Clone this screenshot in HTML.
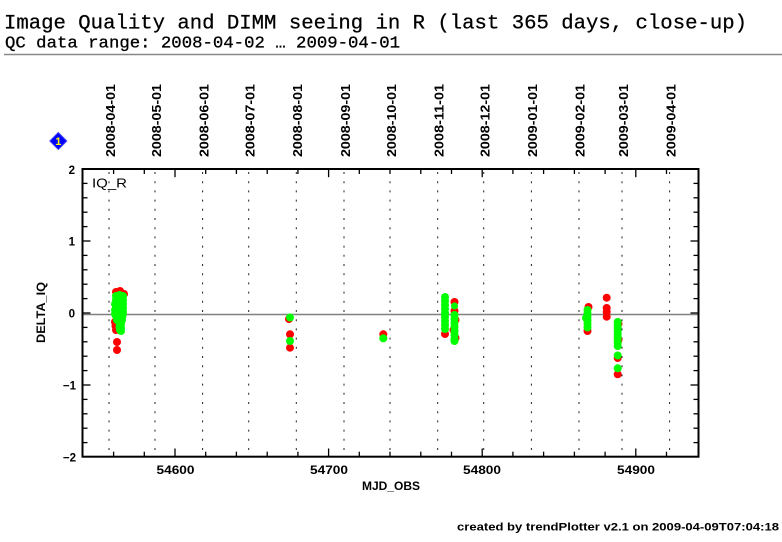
<!DOCTYPE html>
<html>
<head>
<meta charset="utf-8">
<style>
  html,body{margin:0;padding:0;background:#fff;}
  svg{display:block;}
  .ttl{font-family:"Liberation Mono",monospace;fill:#000;}
  .b{font-family:"Liberation Sans",sans-serif;font-weight:bold;fill:#000;}
</style>
</head>
<body>
<svg width="782" height="542" viewBox="0 0 782 542" xmlns="http://www.w3.org/2000/svg">
  <rect x="0" y="0" width="782" height="542" fill="#fff"/>

  <!-- Title -->
  <text class="ttl" x="4" y="28.5" font-size="20" textLength="743" lengthAdjust="spacingAndGlyphs" stroke="#000" stroke-width="0.25">Image Quality and DIMM seeing in R (last 365 days, close-up)</text>
  <text class="ttl" x="5" y="47.5" font-size="17" textLength="395" lengthAdjust="spacingAndGlyphs" stroke="#000" stroke-width="0.3">QC data range: 2008-04-02 … 2009-04-01</text>
  <line x1="4" y1="54.5" x2="782" y2="54.5" stroke="#888" stroke-width="1.5"/>

  <!-- Diamond marker -->
  <polygon points="58.3,132.5 66.8,141 58.3,149.5 49.8,141" fill="#0000ff" stroke="#4444ff" stroke-width="1"/>
  <text class="b" x="58.3" y="145" font-size="11" style="fill:#ffff00" text-anchor="middle">1</text>

  <!-- Month labels (rotated) -->
  <g class="b" font-size="12.5">
    <text transform="translate(115,157) rotate(-90)" textLength="73" lengthAdjust="spacingAndGlyphs">2008-04-01</text>
    <text transform="translate(161,157) rotate(-90)" textLength="73" lengthAdjust="spacingAndGlyphs">2008-05-01</text>
    <text transform="translate(208.5,157) rotate(-90)" textLength="73" lengthAdjust="spacingAndGlyphs">2008-06-01</text>
    <text transform="translate(254.5,157) rotate(-90)" textLength="73" lengthAdjust="spacingAndGlyphs">2008-07-01</text>
    <text transform="translate(302,157) rotate(-90)" textLength="73" lengthAdjust="spacingAndGlyphs">2008-08-01</text>
    <text transform="translate(350,157) rotate(-90)" textLength="73" lengthAdjust="spacingAndGlyphs">2008-09-01</text>
    <text transform="translate(396,157) rotate(-90)" textLength="73" lengthAdjust="spacingAndGlyphs">2008-10-01</text>
    <text transform="translate(443.5,157) rotate(-90)" textLength="73" lengthAdjust="spacingAndGlyphs">2008-11-01</text>
    <text transform="translate(489.5,157) rotate(-90)" textLength="73" lengthAdjust="spacingAndGlyphs">2008-12-01</text>
    <text transform="translate(537,157) rotate(-90)" textLength="73" lengthAdjust="spacingAndGlyphs">2009-01-01</text>
    <text transform="translate(584.5,157) rotate(-90)" textLength="73" lengthAdjust="spacingAndGlyphs">2009-02-01</text>
    <text transform="translate(628,157) rotate(-90)" textLength="73" lengthAdjust="spacingAndGlyphs">2009-03-01</text>
    <text transform="translate(675.5,157) rotate(-90)" textLength="73" lengthAdjust="spacingAndGlyphs">2009-04-01</text>
  </g>

  <!-- Dotted month lines -->
  <g stroke="#222" stroke-width="1" stroke-dasharray="2,7.2">
    <line x1="109" y1="172" x2="109" y2="456"/>
    <line x1="155" y1="172" x2="155" y2="456"/>
    <line x1="202.6" y1="172" x2="202.6" y2="456"/>
    <line x1="248.7" y1="172" x2="248.7" y2="456"/>
    <line x1="296.3" y1="172" x2="296.3" y2="456"/>
    <line x1="344" y1="172" x2="344" y2="456"/>
    <line x1="390" y1="172" x2="390" y2="456"/>
    <line x1="437.7" y1="172" x2="437.7" y2="456"/>
    <line x1="483.7" y1="172" x2="483.7" y2="456"/>
    <line x1="531.4" y1="172" x2="531.4" y2="456"/>
    <line x1="579" y1="172" x2="579" y2="456"/>
    <line x1="622" y1="172" x2="622" y2="456"/>
    <line x1="669.6" y1="172" x2="669.6" y2="456"/>
  </g>

  <!-- Zero line -->
  <line x1="83" y1="314.5" x2="698" y2="314.5" stroke="#808080" stroke-width="1.6"/>

  <!-- Data: red first, green on top -->
  <g fill="#ff0000">
    <circle cx="116" cy="292" r="4"/><circle cx="120" cy="291" r="4"/><circle cx="124" cy="294" r="4"/>
    <circle cx="115" cy="322" r="4"/><circle cx="115.5" cy="326" r="4"/><circle cx="116" cy="330" r="4"/>
    <circle cx="117" cy="342" r="4"/><circle cx="117" cy="350" r="4"/>
    <circle cx="289" cy="319" r="4"/><circle cx="290" cy="334.3" r="4"/><circle cx="290" cy="347.7" r="4"/>
    <circle cx="383.3" cy="334.3" r="4"/>
    <circle cx="445" cy="334" r="4"/>
    <circle cx="454.5" cy="302" r="4"/><circle cx="454.5" cy="311" r="4"/>
    <circle cx="455.5" cy="320" r="4"/><circle cx="453.5" cy="330" r="4"/><circle cx="455.5" cy="338" r="4"/>
    <circle cx="588.5" cy="307" r="4"/><circle cx="587.5" cy="331" r="4"/>
    <circle cx="606.7" cy="297.7" r="4"/><circle cx="606.7" cy="308" r="4"/><circle cx="606.7" cy="312" r="4"/><circle cx="606.7" cy="316.7" r="4"/>
    <circle cx="618.5" cy="324" r="4"/><circle cx="618.5" cy="340" r="4"/>
    <circle cx="617.7" cy="358" r="4"/><circle cx="617.7" cy="374.3" r="4"/>
  </g>
  <g fill="#00ff00">
    <!-- cluster 1 -->
    <circle cx="116" cy="296" r="4"/><circle cx="116" cy="300" r="4"/><circle cx="116" cy="304" r="4"/><circle cx="116" cy="308" r="4"/><circle cx="116" cy="312" r="4"/><circle cx="116" cy="316" r="4"/><circle cx="117" cy="320" r="4"/>
    <circle cx="119.5" cy="295" r="4"/><circle cx="119.5" cy="299" r="4"/><circle cx="119.5" cy="303" r="4"/><circle cx="119.5" cy="307" r="4"/><circle cx="119.5" cy="311" r="4"/><circle cx="119.5" cy="315" r="4"/><circle cx="119.5" cy="319" r="4"/><circle cx="119.5" cy="323" r="4"/><circle cx="119.5" cy="327" r="4"/><circle cx="120" cy="330" r="4"/>
    <circle cx="123" cy="296" r="4"/><circle cx="123" cy="300" r="4"/><circle cx="123" cy="304" r="4"/><circle cx="123" cy="308" r="4"/><circle cx="123" cy="312" r="4"/><circle cx="122.5" cy="316" r="4"/><circle cx="122" cy="320" r="4"/>
    <circle cx="121" cy="324" r="4"/><circle cx="121" cy="328" r="4"/><circle cx="121" cy="331" r="4"/>
    <circle cx="114.5" cy="304" r="3.5"/><circle cx="114.5" cy="310" r="3.5"/><circle cx="114.5" cy="314" r="3.5"/>
    <!-- cluster 2 -->
    <circle cx="290" cy="317.5" r="4"/><circle cx="290" cy="341" r="4"/>
    <!-- cluster 3 -->
    <circle cx="383.3" cy="338.3" r="4"/>
    <!-- cluster 4 -->
    <circle cx="445" cy="297" r="4"/><circle cx="445" cy="301" r="4"/><circle cx="445" cy="305" r="4"/><circle cx="445" cy="309" r="4"/><circle cx="445" cy="313" r="4"/><circle cx="445" cy="317" r="4"/><circle cx="445" cy="321" r="4"/><circle cx="445" cy="325" r="4"/><circle cx="445" cy="329" r="4"/>
    <circle cx="454.5" cy="306" r="3.6"/>
    <circle cx="454.5" cy="315" r="4"/><circle cx="454.5" cy="319" r="4"/><circle cx="454.5" cy="323" r="4"/><circle cx="454.5" cy="327" r="4"/><circle cx="454.5" cy="331" r="4"/><circle cx="454.5" cy="335" r="4"/><circle cx="454.5" cy="339" r="4"/><circle cx="454.5" cy="341" r="4"/>
    <!-- cluster 5 -->
    <circle cx="587.5" cy="310" r="4"/><circle cx="587.5" cy="313.5" r="4"/><circle cx="587.5" cy="317" r="4"/><circle cx="586" cy="318" r="4"/><circle cx="587.5" cy="320.5" r="4"/><circle cx="587.5" cy="324" r="4"/><circle cx="587.5" cy="327.5" r="4"/>
    <!-- cluster 6 -->
    <circle cx="617.7" cy="322" r="4"/><circle cx="617.7" cy="325" r="4"/><circle cx="617.7" cy="328" r="4"/><circle cx="617.7" cy="331" r="4"/><circle cx="617.7" cy="334" r="4"/><circle cx="617.7" cy="337" r="4"/><circle cx="617.7" cy="340" r="4"/><circle cx="617.7" cy="343" r="4"/><circle cx="617.7" cy="346" r="4"/>
    <circle cx="617.7" cy="355.5" r="4"/><circle cx="617.7" cy="368.3" r="4"/>
  </g>

  <!-- Frame -->
  <rect x="82.5" y="169" width="616" height="287.7" fill="none" stroke="#000" stroke-width="2"/>

  <!-- X ticks bottom & top -->
  <g stroke="#000" stroke-width="1.3">
    <line x1="175" y1="456.7" x2="175" y2="448.5"/><line x1="328.6" y1="456.7" x2="328.6" y2="448.5"/><line x1="482.2" y1="456.7" x2="482.2" y2="448.5"/><line x1="635.8" y1="456.7" x2="635.8" y2="448.5"/>
    <line x1="175" y1="169" x2="175" y2="177.2"/><line x1="328.6" y1="169" x2="328.6" y2="177.2"/><line x1="482.2" y1="169" x2="482.2" y2="177.2"/><line x1="635.8" y1="169" x2="635.8" y2="177.2"/>
    <line x1="113.6" y1="456.7" x2="113.6" y2="451.7"/><line x1="144.3" y1="456.7" x2="144.3" y2="451.7"/><line x1="205.7" y1="456.7" x2="205.7" y2="451.7"/><line x1="236.4" y1="456.7" x2="236.4" y2="451.7"/><line x1="267.2" y1="456.7" x2="267.2" y2="451.7"/><line x1="297.9" y1="456.7" x2="297.9" y2="451.7"/><line x1="359.3" y1="456.7" x2="359.3" y2="451.7"/><line x1="390" y1="456.7" x2="390" y2="451.7"/><line x1="420.8" y1="456.7" x2="420.8" y2="451.7"/><line x1="451.5" y1="456.7" x2="451.5" y2="451.7"/><line x1="512.9" y1="456.7" x2="512.9" y2="451.7"/><line x1="543.6" y1="456.7" x2="543.6" y2="451.7"/><line x1="574.4" y1="456.7" x2="574.4" y2="451.7"/><line x1="605.1" y1="456.7" x2="605.1" y2="451.7"/><line x1="666.5" y1="456.7" x2="666.5" y2="451.7"/>
    <line x1="113.6" y1="169" x2="113.6" y2="174"/><line x1="144.3" y1="169" x2="144.3" y2="174"/><line x1="205.7" y1="169" x2="205.7" y2="174"/><line x1="236.4" y1="169" x2="236.4" y2="174"/><line x1="267.2" y1="169" x2="267.2" y2="174"/><line x1="297.9" y1="169" x2="297.9" y2="174"/><line x1="359.3" y1="169" x2="359.3" y2="174"/><line x1="390" y1="169" x2="390" y2="174"/><line x1="420.8" y1="169" x2="420.8" y2="174"/><line x1="451.5" y1="169" x2="451.5" y2="174"/><line x1="512.9" y1="169" x2="512.9" y2="174"/><line x1="543.6" y1="169" x2="543.6" y2="174"/><line x1="574.4" y1="169" x2="574.4" y2="174"/><line x1="605.1" y1="169" x2="605.1" y2="174"/><line x1="666.5" y1="169" x2="666.5" y2="174"/>
  </g>

  <!-- Y ticks left & right -->
  <g stroke="#000" stroke-width="1.3">
    <line x1="82.5" y1="241" x2="90.5" y2="241"/><line x1="82.5" y1="313" x2="90.5" y2="313"/><line x1="82.5" y1="385" x2="90.5" y2="385"/>
    <line x1="698.5" y1="241" x2="690.5" y2="241"/><line x1="698.5" y1="313" x2="690.5" y2="313"/><line x1="698.5" y1="385" x2="690.5" y2="385"/>
    <line x1="82.5" y1="183.4" x2="87.5" y2="183.4"/><line x1="82.5" y1="197.8" x2="87.5" y2="197.8"/><line x1="82.5" y1="212.2" x2="87.5" y2="212.2"/><line x1="82.5" y1="226.6" x2="87.5" y2="226.6"/>
    <line x1="82.5" y1="255.4" x2="87.5" y2="255.4"/><line x1="82.5" y1="269.8" x2="87.5" y2="269.8"/><line x1="82.5" y1="284.2" x2="87.5" y2="284.2"/><line x1="82.5" y1="298.6" x2="87.5" y2="298.6"/>
    <line x1="82.5" y1="327.4" x2="87.5" y2="327.4"/><line x1="82.5" y1="341.8" x2="87.5" y2="341.8"/><line x1="82.5" y1="356.2" x2="87.5" y2="356.2"/><line x1="82.5" y1="370.6" x2="87.5" y2="370.6"/>
    <line x1="82.5" y1="399.4" x2="87.5" y2="399.4"/><line x1="82.5" y1="413.8" x2="87.5" y2="413.8"/><line x1="82.5" y1="428.2" x2="87.5" y2="428.2"/><line x1="82.5" y1="442.6" x2="87.5" y2="442.6"/>
    <line x1="698.5" y1="183.4" x2="693.5" y2="183.4"/><line x1="698.5" y1="197.8" x2="693.5" y2="197.8"/><line x1="698.5" y1="212.2" x2="693.5" y2="212.2"/><line x1="698.5" y1="226.6" x2="693.5" y2="226.6"/>
    <line x1="698.5" y1="255.4" x2="693.5" y2="255.4"/><line x1="698.5" y1="269.8" x2="693.5" y2="269.8"/><line x1="698.5" y1="284.2" x2="693.5" y2="284.2"/><line x1="698.5" y1="298.6" x2="693.5" y2="298.6"/>
    <line x1="698.5" y1="327.4" x2="693.5" y2="327.4"/><line x1="698.5" y1="341.8" x2="693.5" y2="341.8"/><line x1="698.5" y1="356.2" x2="693.5" y2="356.2"/><line x1="698.5" y1="370.6" x2="693.5" y2="370.6"/>
    <line x1="698.5" y1="399.4" x2="693.5" y2="399.4"/><line x1="698.5" y1="413.8" x2="693.5" y2="413.8"/><line x1="698.5" y1="428.2" x2="693.5" y2="428.2"/><line x1="698.5" y1="442.6" x2="693.5" y2="442.6"/>
  </g>

  <!-- Y labels -->
  <g class="b" font-size="11.5" text-anchor="end">
    <text x="75" y="174">2</text>
    <text x="75" y="245.5">1</text>
    <text x="75" y="317.5">0</text>
    <text x="76" y="389.5">−1</text>
    <text x="76" y="461.5">−2</text>
  </g>

  <!-- X labels -->
  <g class="b" font-size="11.5" text-anchor="middle">
    <text x="175.5" y="474" textLength="38" lengthAdjust="spacingAndGlyphs">54600</text>
    <text x="329" y="474" textLength="38" lengthAdjust="spacingAndGlyphs">54700</text>
    <text x="482" y="474" textLength="38" lengthAdjust="spacingAndGlyphs">54800</text>
    <text x="636" y="474" textLength="38" lengthAdjust="spacingAndGlyphs">54900</text>
  </g>

  <!-- Axis titles -->
  <text class="b" x="362" y="490" font-size="11.5" textLength="58" lengthAdjust="spacingAndGlyphs">MJD_OBS</text>
  <text class="b" transform="translate(45,312.5) rotate(-90)" font-size="12" text-anchor="middle" textLength="61" lengthAdjust="spacingAndGlyphs">DELTA_IQ</text>

  <!-- Panel label -->
  <text x="92" y="187.5" font-family="Liberation Sans, sans-serif" font-size="13" fill="#000" textLength="35" lengthAdjust="spacingAndGlyphs">IQ_R</text>

  <!-- Footer -->
  <text class="b" x="457" y="530.5" font-size="11" textLength="322" lengthAdjust="spacingAndGlyphs">created by trendPlotter v2.1 on 2009-04-09T07:04:18</text>
</svg>
</body>
</html>
